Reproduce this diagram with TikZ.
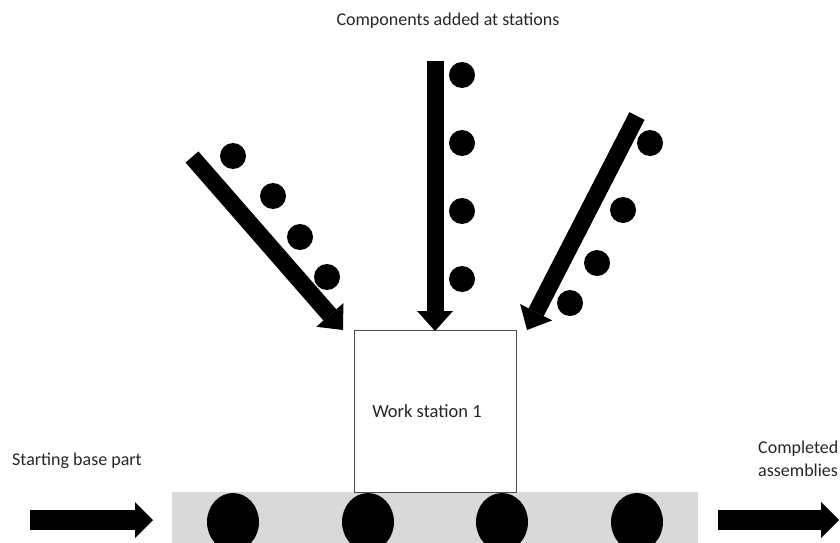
\documentclass[tikz,border=0pt]{standalone}
\usepackage{fontspec}
\setmainfont{Carlito}
\usetikzlibrary{arrows.meta,shapes.geometric}
\definecolor{beltgray}{HTML}{D9D9D9}
\definecolor{txt}{HTML}{262626}
\tikzset{
  bigarrow/.style={line width=17pt, -{Triangle[width=36pt,length=20pt,line width=0pt]}},
  flatarrow/.style={line width=20pt, -{Triangle[width=36pt,length=18pt,line width=0pt]}},
  part/.style={circle, fill=black, inner sep=0pt, minimum size=26pt},
  basepart/.style={ellipse, fill=black, inner sep=0pt, minimum width=52pt, minimum height=58pt},
  lbl/.style={font=\fontsize{18}{23}\selectfont, text=txt, inner sep=0pt}
}
\begin{document}
\begin{tikzpicture}[x=1pt,y=-1pt]
\useasboundingbox (0,0) rectangle (840,543);
\clip (0,0) rectangle (840,543);
% conveyor
\fill[beltgray] (172,492) rectangle (698,560);
\node[basepart] (b1) at (233,522) {};
\node[basepart] (b2) at (368,522) {};
\node[basepart] (b3) at (502,522) {};
\node[basepart] (b4) at (637,522) {};
% work station
\node[draw=black!70, line width=0.8pt, fill=white, minimum width=162pt, minimum height=162pt, inner sep=0pt,
      label={[font=\fontsize{18.5}{22}\selectfont, text=txt, inner sep=0pt, xshift=-8pt]center:Work station 1}] (ws) at (435,411) {};
% horizontal arrows
\coordinate (inA) at (30,520);
\coordinate (inB) at (153,520);
\coordinate (outA) at (718,520);
\coordinate (outB) at (839,520);
\draw[flatarrow] (inA) -- (inB);
\draw[flatarrow] (outA) -- (outB);
% component arrows
\coordinate (lt) at (192,157);
\coordinate (lp) at (343,330);
\coordinate (vt) at (435,61);
\coordinate (vp) at (435,331);
\coordinate (rt) at (637,116);
\coordinate (rp) at (527,330);
\draw[bigarrow] (lt) -- (lp);
\draw[bigarrow] (vt) -- (vp);
\draw[bigarrow] (rt) -- (rp);
% components
\node[part] (l1) at (233,156) {};
\node[part] (l2) at (273,196) {};
\node[part] (l3) at (300,237) {};
\node[part] (l4) at (327,277) {};
\node[part] (v1) at (462,75) {};
\node[part] (v2) at (462,143) {};
\node[part] (v3) at (462,211) {};
\node[part] (v4) at (462,279) {};
\node[part] (r1) at (650,143) {};
\node[part] (r2) at (623,210) {};
\node[part] (r3) at (597,263) {};
\node[part] (r4) at (570,303) {};
% labels
\node[lbl] (top) at (448,21) {Components added at stations};
\node[lbl, anchor=west] (start) at (12,461) {Starting base part};
\node[lbl, anchor=west, align=left] (done) at (758,459) {Completed\\assemblies};
\end{tikzpicture}
\end{document}
